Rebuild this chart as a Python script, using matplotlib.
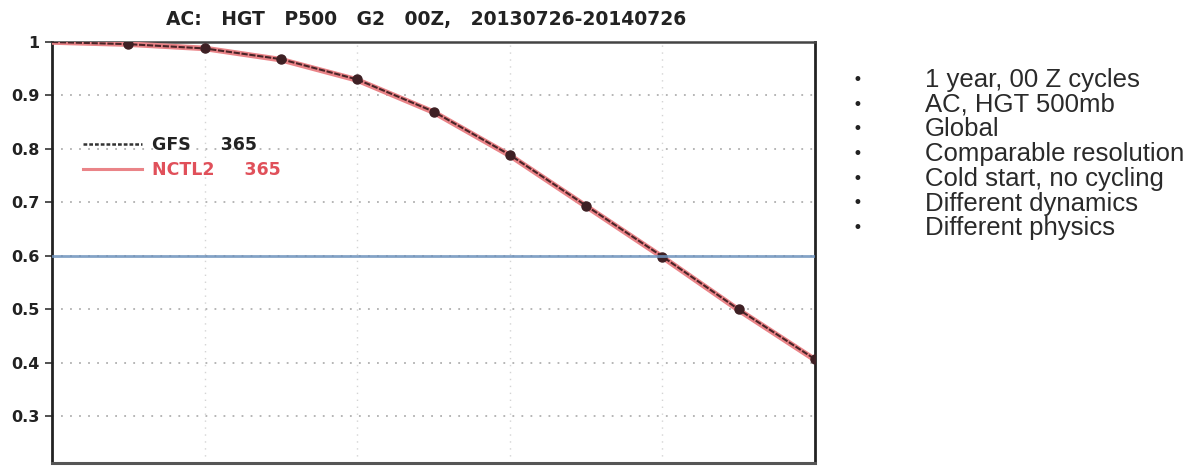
import numpy as np
import matplotlib
matplotlib.use('Agg')
from matplotlib import pyplot as plt
from matplotlib.lines import Line2D
from matplotlib.ticker import FuncFormatter


# Anomaly correlation, 500 hPa height, by forecast day.
days = [0, 1, 2, 3, 4, 5, 6, 7, 8, 9, 10]
gfs_ac = [1.0, 0.996, 0.988, 0.968, 0.930, 0.870, 0.789, 0.694, 0.599, 0.500, 0.407]
nctl2_ac = [1.0, 0.996, 0.988, 0.967, 0.929, 0.869, 0.788, 0.693, 0.598, 0.499, 0.406]
threshold = 0.6

title = "AC:   HGT   P500   G2   00Z,   20130726-20140726"
legend_labels = ["GFS     365", "NCTL2     365"]
bullets = [
    "1 year, 00 Z cycles",
    "AC, HGT 500mb",
    "Global",
    "Comparable resolution",
    "Cold start, no cycling",
    "Different dynamics",
    "Different physics",
]

W, H = 1202, 466
fig = plt.figure(figsize=(W / 100, H / 100), dpi=100)
ax = fig.add_axes([52 / W, 1 - 463 / H, (815 - 52) / W, (463 - 42) / H])

bold = {'family': 'DejaVu Sans', 'weight': 'bold'}

# Curves
ax.plot(days, nctl2_ac, color='#ea8488', lw=4, solid_capstyle='round', zorder=3)
ax.plot(days, gfs_ac, color='#4a2428', lw=1.5, ls=(0, (3, 0.8)), zorder=4)
ax.plot(days[1:], gfs_ac[1:], ls='none', marker='o', ms=6.5, color='#3e2024', zorder=5)
ax.axhline(threshold, color='#6f93bd', lw=2, alpha=0.85, zorder=6)

ax.set_xlim(0, 10)
ax.set_ylim(0.213, 1.0)
ax.set_xticks(range(0, 11, 2))
ax.set_yticks([0.3, 0.4, 0.5, 0.6, 0.7, 0.8, 0.9, 1.0])
ax.yaxis.set_major_formatter(FuncFormatter(lambda v, p: '1' if v > 0.99 else '%.1f' % v))
ax.tick_params(axis='x', labelbottom=False, length=0)
ax.tick_params(axis='y', direction='out', length=5, width=1.2, pad=4, colors='#333333')
for lab in ax.get_yticklabels():
    lab.set_fontproperties(bold)
    lab.set_fontsize(11.5)
    lab.set_color('#222222')

ax.grid(axis='y', color='#b0b0b0', ls=(0, (1, 4)), lw=1.3)
ax.grid(axis='x', color='#d4d4d4', ls=(0, (1, 4)), lw=1.0)

for side in ['left', 'right']:
    ax.spines[side].set_linewidth(2)
    ax.spines[side].set_color('#222222')
ax.spines['top'].set_linewidth(1.8)
ax.spines['top'].set_color('#444444')
ax.spines['bottom'].set_linewidth(2.2)
ax.spines['bottom'].set_color('#555555')

ax.set_title(title, fontdict=bold, fontsize=13.5, pad=12, color='#222222', x=0.49)

handles = [
    Line2D([], [], color='#333333', lw=1.8, ls=(0, (1.5, 0.8))),
    Line2D([], [], color='#ea8488', lw=2.2),
]
leg = ax.legend(handles, legend_labels, loc='center left', bbox_to_anchor=(0.02, 0.726),
                frameon=False, handlelength=3.4, handletextpad=0.57, labelspacing=0.4,
                prop={'family': 'DejaVu Sans', 'weight': 'bold', 'size': 12.5})
leg.get_texts()[0].set_color('#222222')
leg.get_texts()[1].set_color('#e0505a')

# Bullet list on the right
for i, item in enumerate(bullets):
    y = 1 - (80 + i * 24.7) / H
    fig.text(857 / W, y, u'\u2022', fontsize=12, color='#222222', va='center', ha='center')
    fig.text(925 / W, y, item, fontsize=18.5, color='#2a2a2a', va='center', ha='left',
             family=['Liberation Sans', 'DejaVu Sans'])

plt.savefig('out.png', dpi=100)
